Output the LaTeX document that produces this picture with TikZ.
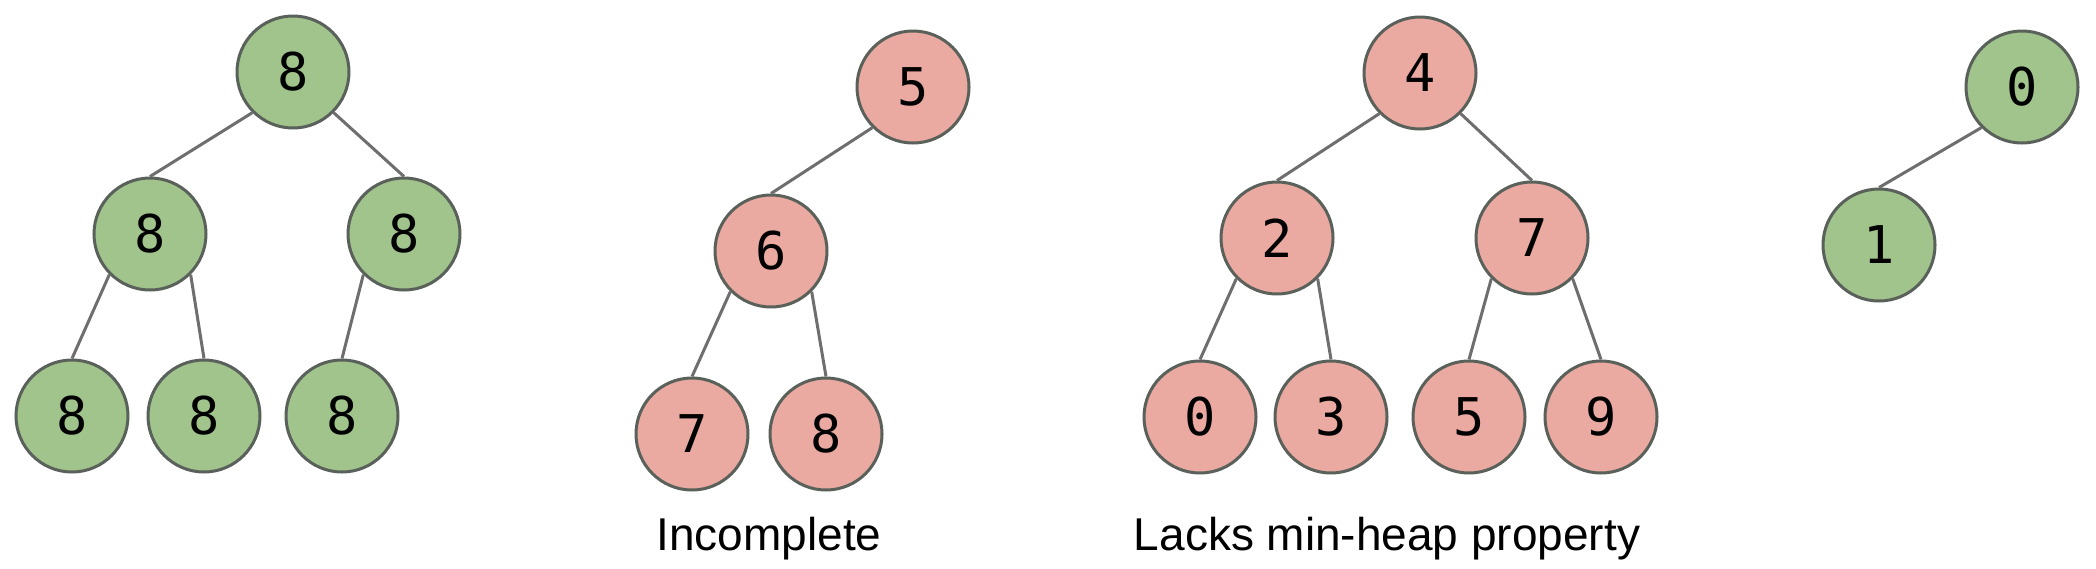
\documentclass[tikz,border=0pt]{standalone}
\usepackage{fontspec}
\setmainfont{Liberation Sans}
\setmonofont{DejaVu Sans Mono}
\definecolor{heapgreen}{RGB}{161,196,141}
\definecolor{heappink}{RGB}{234,170,161}
\definecolor{rimgray}{RGB}{90,96,90}
\definecolor{edgegray}{RGB}{110,110,110}
\tikzset{
  heapnode/.style={circle,draw=rimgray,line width=3pt,minimum size=112pt,inner sep=0pt,
    font=\ttfamily\fontsize{52}{60}\selectfont},
  goodnode/.style={heapnode,fill=heapgreen},
  badnode/.style={heapnode,fill=heappink},
  heapedge/.style={draw=edgegray,line width=3pt},
  caption/.style={font=\fontsize{46}{52}\selectfont}
}
\begin{document}
\begin{tikzpicture}[x=1pt,y=-1pt]
            \useasboundingbox (0,0) rectangle (2096,568);
            % valid heap
            \node[goodnode] (a) at (293,72) {8};
            \node[goodnode] (al) at (150,234) {8};
            \node[goodnode] (ar) at (404,234) {8};
            \node[goodnode] (all) at (72,416) {8};
            \node[goodnode] (alr) at (204,416) {8};
            \node[goodnode] (arl) at (342,416) {8};
            \draw[heapedge] (a.south west)--(al.north) (a.south east)--(ar.north)
                (al.south west)--(all.north) (al.south east)--(alr.north) (ar.south west)--(arl.north);
            % incomplete
            \node[badnode] (b) at (913,87) {5};
            \node[badnode] (bl) at (771,251) {6};
            \node[badnode] (bll) at (692,434) {7};
            \node[badnode] (blr) at (826,434) {8};
            \draw[heapedge] (b.south west)--(bl.north) (bl.south west)--(bll.north) (bl.south east)--(blr.north);
            \node[caption] (bcap) at (769,539) {Incomplete};
            % lacks min-heap property
            \node[badnode] (c) at (1420,73) {4};
            \node[badnode] (cl) at (1277,238) {2};
            \node[badnode] (cr) at (1532,238) {7};
            \node[badnode] (cll) at (1200,417) {0};
            \node[badnode] (clr) at (1331,417) {3};
            \node[badnode] (crl) at (1469,417) {5};
            \node[badnode] (crr) at (1601,417) {9};
            \draw[heapedge] (c.south west)--(cl.north) (c.south east)--(cr.north)
                (cl.south west)--(cll.north) (cl.south east)--(clr.north)
                (cr.south west)--(crl.north) (cr.south east)--(crr.north);
            \node[caption] (ccap) at (1387,539) {Lacks min-heap property};
            % small heap
            \node[goodnode] (d) at (2022,87) {0};
            \node[goodnode] (dl) at (1879,245) {1};
            \draw[heapedge] (d.south west)--(dl.north);
        \end{tikzpicture}
\end{document}
